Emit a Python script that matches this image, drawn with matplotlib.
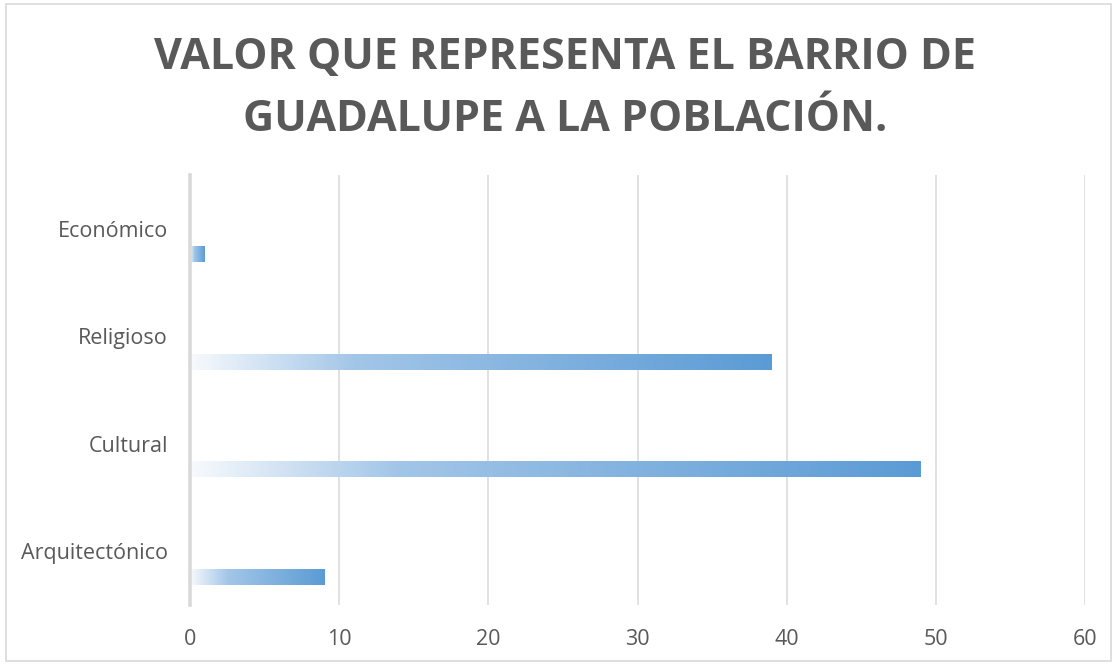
import matplotlib.pyplot as plt
import numpy as np
from matplotlib.colors import LinearSegmentedColormap
from matplotlib.patches import Rectangle

plt.rcParams['font.family'] = ['Open Sans', 'DejaVu Sans']

# datos
categorias = ['Arquitectónico', 'Cultural', 'Religioso', 'Económico']
valores = [9, 49, 39, 1]
titulo = 'VALOR QUE REPRESENTA EL BARRIO DE\nGUADALUPE A LA POBLACIÓN.'
xticks = [0, 10, 20, 30, 40, 50, 60]

gris = '#595959'
grid_col = '#D9D9D9'

# degradado tipo Excel: blanco -> azul
cmap = LinearSegmentedColormap.from_list(
    'grad', [(0.0, '#F7FAFD'), (0.28, '#A3C6E8'), (1.0, '#5B9BD5')])

fig = plt.figure(figsize=(11.17, 6.65), dpi=100)
ax = fig.add_axes([0.1701, 0.0902, 0.8013, 0.6466])

grad = np.linspace(0, 1, 256).reshape(1, -1)
alto = 0.14
offset = 0.24
for i, v in enumerate(valores):
    yc = i - offset
    ax.imshow(grad, cmap=cmap, aspect='auto', interpolation='bilinear',
              extent=[0, v, yc - alto / 2, yc + alto / 2], zorder=3)

ax.set_xlim(0, 60)
ax.set_ylim(-0.5, len(categorias) - 0.5)
ax.set_xticks(xticks)
ax.set_yticks(range(len(categorias)))
ax.set_yticklabels(categorias)

ax.grid(axis='x', color=grid_col, linewidth=1.1, zorder=0)
ax.set_axisbelow(True)
for s in ['top', 'right', 'bottom']:
    ax.spines[s].set_visible(False)
ax.spines['left'].set_color(grid_col)
ax.spines['left'].set_linewidth(2.6)
ax.spines['left'].set_zorder(4)

ax.tick_params(axis='both', length=0, labelsize=15.5, labelcolor=gris)
ax.tick_params(axis='x', pad=17)
ax.tick_params(axis='y', pad=16)

fig.text(0.506, 0.867, titulo, ha='center', va='center', fontsize=31,
         fontweight='bold', color=gris, linespacing=1.55)

# borde del gráfico
fig.patches.append(Rectangle((0.005, 0.006), 0.99, 0.988, transform=fig.transFigure,
                             fill=False, edgecolor='#D9D9D9', linewidth=1.2))

plt.savefig('out.png', dpi=100)
